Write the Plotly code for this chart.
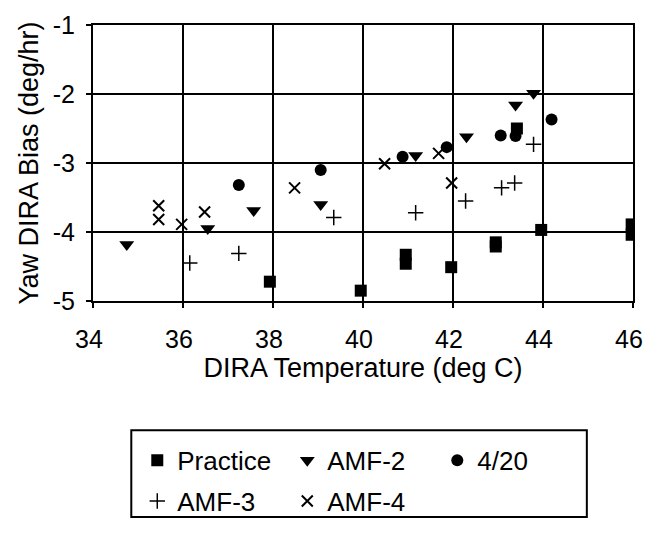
import plotly.graph_objects as go

# ---- data ----
practice_x = [37.93, 39.95, 40.95, 40.95, 41.96, 42.95, 42.95, 43.96, 45.97, 45.97, 43.42]
practice_y = [-4.72, -4.85, -4.33, -4.46, -4.51, -4.15, -4.21, -3.97, -3.89, -4.04, -2.50]

amf2_x = [34.75, 36.55, 37.57, 39.06, 41.17, 42.30, 43.39, 43.79]
amf2_y = [-4.18, -3.95, -3.69, -3.60, -2.89, -2.62, -2.16, -1.99]

d420_x = [37.24, 39.06, 40.88, 41.86, 43.06, 43.39, 44.19]
d420_y = [-3.32, -3.10, -2.91, -2.77, -2.60, -2.61, -2.37]

amf3_x = [36.15, 37.24, 39.35, 41.17, 42.28, 43.08, 43.37, 43.79]
amf3_y = [-4.45, -4.31, -3.79, -3.72, -3.55, -3.36, -3.29, -2.73]

amf4_x = [35.46, 35.46, 35.97, 36.48, 38.48, 40.48, 41.68, 41.97]
amf4_y = [-3.62, -3.82, -3.89, -3.71, -3.36, -3.01, -2.86, -3.29]

x_ticks = [34, 36, 38, 40, 42, 44, 46]
x_ticktext = ["34", "36", "38", "40", "42", "44", "46"]
y_ticks = [-1, -2, -3, -4, -5]
y_ticktext = ["-1", "-2", "-3", "-4", "-5"]

FONT = "Liberation Sans, Arial, Helvetica, sans-serif"

fig = go.Figure()
fig.add_trace(go.Scatter(x=practice_x, y=practice_y, mode="markers", name="Practice",
                         marker=dict(symbol="square", size=12, color="black"), legend="legend"))
fig.add_trace(go.Scatter(x=amf2_x, y=amf2_y, mode="markers", name="AMF-2",
                         marker=dict(symbol="triangle-down", size=13, color="black"), legend="legend"))
fig.add_trace(go.Scatter(x=d420_x, y=d420_y, mode="markers", name="4/20",
                         marker=dict(symbol="circle", size=12, color="black"), legend="legend"))
fig.add_trace(go.Scatter(x=amf3_x, y=amf3_y, mode="markers", name="AMF-3",
                         marker=dict(symbol="cross-thin", size=11, color="black",
                                     line=dict(width=1.5, color="black")), legend="legend2"))
fig.add_trace(go.Scatter(x=amf4_x, y=amf4_y, mode="markers", name="AMF-4",
                         marker=dict(symbol="x-thin", size=11, color="black",
                                     line=dict(width=2, color="black")), legend="legend2"))

axis_common = dict(showline=True, linecolor="black", linewidth=2, mirror=True,
                   showgrid=True, gridcolor="black", gridwidth=1.5, zeroline=False,
                   ticks="outside", ticklen=5, tickwidth=1.5, tickcolor="black",
                   tickfont=dict(family=FONT, size=25, color="black"))

fig.update_xaxes(range=[34, 46], tickvals=x_ticks, ticktext=x_ticktext,
                 title=dict(text="DIRA Temperature (deg C)", font=dict(family=FONT, size=27, color="black"), standoff=0),
                 ticklabelstandoff=10, ticklabelshift=-4, **axis_common)
fig.update_yaxes(range=[-5, -1], tickvals=y_ticks, ticktext=y_ticktext,
                 title=dict(text="Yaw DIRA Bias (deg/hr)", font=dict(family=FONT, size=27, color="black"), standoff=6),
                 ticklabelstandoff=6, **axis_common)

legend_common = dict(orientation="h", xanchor="left", yanchor="top",
                     font=dict(family=FONT, size=26, color="black"),
                     bgcolor="rgba(0,0,0,0)", borderwidth=0,
                     entrywidth=105, entrywidthmode="pixels", itemclick=False)

fig.update_layout(
    width=654, height=535,
    margin=dict(l=93, r=11, t=20, b=229),
    paper_bgcolor="white", plot_bgcolor="white",
    font=dict(family=FONT, color="black"),
    legend=dict(x=0.082, y=-0.492, **legend_common),
    legend2=dict(x=0.082, y=-0.64, **legend_common),
    shapes=[dict(type="rect", xref="paper", yref="paper",
                 x0=0.0709, x1=0.9145, y0=-0.783, y1=-0.4685,
                 line=dict(color="black", width=2), fillcolor="rgba(0,0,0,0)")],
)

fig.write_html("out.html")
